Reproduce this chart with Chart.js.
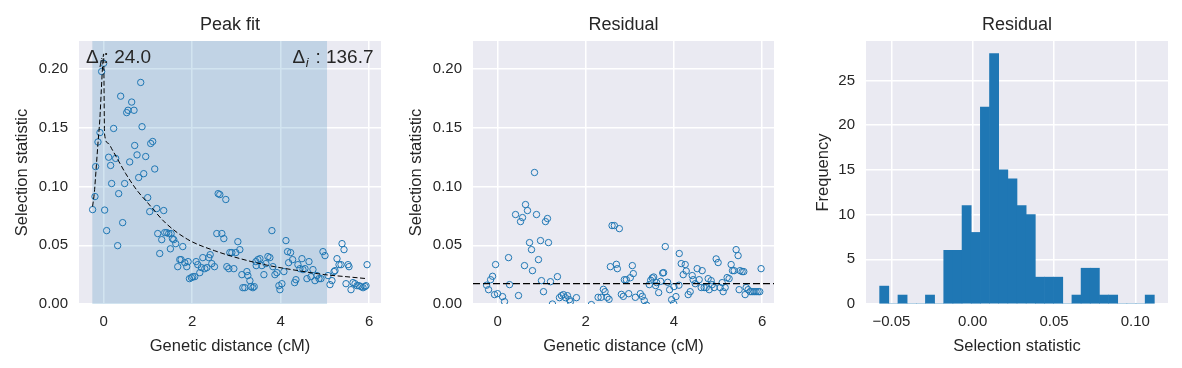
<!DOCTYPE html>
<html>
<head>
<meta charset="utf-8">
<script src="https://cdn.jsdelivr.net/npm/chart.js@4.4.0/dist/chart.umd.min.js"></script>
<style>
  html, body { margin: 0; padding: 0; background: #fff; }
  #wrap { position: relative; width: 1182px; height: 368px; }
  canvas { position: absolute; top: 0; }
</style>
</head>
<body>
<div id="wrap">
  <canvas id="peakChart" width="394" height="368" style="left:0px"></canvas>
  <canvas id="residChart" width="394" height="368" style="left:394px"></canvas>
  <canvas id="histChart" width="394" height="368" style="left:788px"></canvas>
</div>
<script>
// peak fit: observed points
var peakDist = [-0.249,-0.196,-0.181,-0.128,-0.083,-0.045,0.0,0.023,0.068,0.113,
  0.158,0.181,0.226,0.272,0.317,0.340,0.385,0.430,0.475,0.521,
  0.551,0.589,0.634,0.687,0.702,0.755,0.792,0.838,0.868,0.906,
  0.951,0.996,1.042,1.064,1.109,1.155,1.200,1.223,1.268,1.313,
  1.358,1.381,1.426,1.472,1.509,1.525,1.555,1.585,1.630,1.675,
  1.721,1.751,1.789,1.834,1.879,1.909,1.940,1.985,2.015,2.060,
  2.091,2.128,2.174,2.211,2.242,2.287,2.332,2.377,2.408,2.445,
  2.506,2.558,2.589,2.626,2.672,2.717,2.762,2.785,2.830,2.853,
  2.898,2.943,2.989,3.034,3.079,3.125,3.147,3.192,3.238,3.260,
  3.306,3.328,3.374,3.404,3.442,3.449,3.487,3.532,3.577,3.623,
  3.668,3.713,3.758,3.804,3.826,3.872,3.917,3.962,3.985,4.030,
  4.075,4.121,4.158,4.181,4.226,4.272,4.317,4.347,4.392,4.438,
  4.483,4.506,4.551,4.596,4.642,4.687,4.732,4.777,4.823,4.868,
  4.913,4.958,5.004,5.072,5.117,5.162,5.208,5.230,5.275,5.321,
  5.366,5.389,5.434,5.479,5.525,5.547,5.592,5.638,5.683,5.728,
  5.774,5.819,5.864,5.909,5.932,5.955];
var peakStat = [0.0804,0.0915,0.117,0.138,0.146,0.198,0.205,0.080,0.0625,0.125,
  0.118,0.1026,0.1495,0.124,0.0497,0.094,0.177,0.0693,0.1026,0.163,
  0.165,0.121,0.172,0.165,0.135,0.127,0.1077,0.1887,0.151,0.111,
  0.1256,0.0906,0.0787,0.1367,0.1384,0.115,0.0813,0.060,0.043,0.0548,
  0.0796,0.0608,0.0608,0.060,0.047,0.060,0.0557,0.0548,0.0514,0.0318,
  0.0378,0.0378,0.0489,0.0352,0.0318,0.0361,0.0216,0.0224,0.0233,0.0233,
  0.0361,0.0335,0.0267,0.031,0.0395,0.0301,0.031,0.0395,0.042,0.0344,
  0.0318,0.060,0.094,0.0932,0.060,0.0557,0.089,0.0318,0.0301,0.0438,
  0.0438,0.0301,0.0438,0.0531,0.0463,0.025,0.0139,0.0139,0.0276,0.0242,
  0.0199,0.0148,0.0139,0.0148,0.0361,0.0327,0.0378,0.0386,0.0327,0.025,
  0.0344,0.0404,0.0395,0.0625,0.0318,0.025,0.0267,0.0156,0.0122,0.0173,
  0.0276,0.054,0.0446,0.0352,0.0438,0.0378,0.0182,0.0207,0.0335,0.0301,
  0.0386,0.0293,0.0301,0.0216,0.0361,0.0233,0.0293,0.0199,0.0242,0.0216,
  0.0216,0.0446,0.0412,0.0242,0.0165,0.0199,0.0276,0.0284,0.0386,0.0335,
  0.0335,0.0514,0.0463,0.0173,0.0335,0.0318,0.0122,0.0182,0.0173,0.0156,
  0.0156,0.0148,0.0139,0.0148,0.0156,0.0335];

// fitted curve
var fitDist = [-0.25,-0.21,-0.17,-0.13,-0.085,-0.05,-0.02,0.0,0.02,0.1,0.2,0.35,0.5,0.75,1.0,1.4,1.9,2.5,3.1,3.7,4.35,5.0,5.5,5.95];
var fitStat = [0.083,0.095,0.115,0.136,0.158,0.184,0.205,0.213,0.145,0.137,0.131,0.121,0.111,0.097,0.086,0.069,0.055,0.0455,0.0385,0.033,0.0287,0.025,0.0232,0.0216];

// shaded window and annotations
var spanStart = -0.256, spanEnd = 5.05;
var deltaLeft = '24.0', deltaRight = '136.7';

// residuals (only those visible above 0)
var residDist = [-0.249,-0.204,-0.158,-0.113,-0.068,-0.045,0.0,0.113,0.158,0.249,
  0.272,0.408,0.475,0.521,0.566,0.611,0.634,0.679,0.725,0.770,
  0.792,0.838,0.883,0.928,0.974,0.996,1.042,1.087,1.132,1.155,
  1.200,1.245,1.358,1.404,1.449,1.494,1.540,1.585,1.630,1.653,
  1.789,2.128,2.280,2.348,2.400,2.438,2.484,2.529,2.559,2.597,
  2.649,2.695,2.717,2.762,2.808,2.853,2.876,2.921,2.975,3.011,
  3.057,3.079,3.125,3.238,3.283,3.328,3.380,3.441,3.473,3.509,
  3.541,3.586,3.609,3.654,3.699,3.745,3.767,3.804,3.858,3.903,
  3.948,3.994,4.000,4.046,4.114,4.121,4.166,4.211,4.256,4.279,
  4.324,4.369,4.415,4.437,4.483,4.528,4.573,4.619,4.641,4.686,
  4.732,4.777,4.800,4.845,4.868,4.913,4.958,5.003,5.049,5.094,
  5.117,5.162,5.207,5.252,5.298,5.329,5.366,5.411,5.456,5.479,
  5.502,5.547,5.585,5.615,5.638,5.683,5.728,5.773,5.818,5.863,
  5.909,5.947,5.977];
var residStat = [0.016,0.0122,0.0207,0.0236,0.008,0.0336,0.0088,0.0063,0.002,0.0395,
  0.0165,0.0762,0.0072,0.0702,0.0736,0.0327,0.0847,0.0796,0.0523,0.0463,
  0.0284,0.112,0.0762,0.0378,0.054,0.0199,0.0105,0.0702,0.0728,0.0523,
  0.019,0.0,0.0233,0.0054,0.0071,0.008,0.0054,0.0071,0.0037,0.002,
  0.0054,-0.0005,0.0057,0.0057,0.0125,0.0105,0.0057,0.004,0.0318,0.0668,
  0.0668,0.0338,0.0301,0.0642,0.0082,0.0065,0.0207,0.0207,0.0088,0.0224,
  0.0327,0.0259,0.0057,0.0088,0.0065,0.0029,-0.001,0.0165,0.0202,0.0222,
  0.023,0.0157,0.0182,0.0097,0.0193,0.0264,0.0267,0.0489,0.0185,0.0122,
  0.0037,0.0003,0.0148,0.0063,0.016,0.043,0.0344,0.025,0.0336,0.0281,
  0.008,0.0105,0.0242,0.0207,0.0173,0.0301,0.0207,0.014,0.0284,0.014,
  0.014,0.0216,0.0122,0.0199,0.0165,0.014,0.0384,0.0353,0.014,0.0182,
  0.0105,0.014,0.0225,0.0216,0.0336,0.0284,0.0284,0.0463,0.0412,0.0122,
  0.0284,0.0276,0.0276,0.008,0.014,0.0122,0.0105,0.0105,0.0105,0.0105,
  0.0105,0.0105,0.0301];
var residBase = 0.0174;

// histogram of residuals
var histCenters = [-0.05439,-0.04876,-0.04313,-0.03750,-0.03187,-0.02624,-0.02061,-0.01498,-0.00935,-0.00372,
  0.00191,0.00754,0.01317,0.01880,0.02443,0.03006,0.03569,0.04132,0.04695,0.05258,
  0.05821,0.06384,0.06947,0.07510,0.08073,0.08636,0.09199,0.09762,0.10325,0.10888];
var histCounts = [2,0,1,0,0,1,0,6,6,11,8,22,28,15,14,11,10,3,3,3,0,1,4,4,1,1,0,0,0,1];

// axes
var distLim = [-0.557, 6.27];
var statLim = [0, 0.224];
var distTicks = [0, 2, 4, 6];
var statTicks = [0, 0.05, 0.1, 0.15, 0.2];
var residLim = [-0.0656, 0.1201];
var residTicks = [-0.05, 0, 0.05, 0.1];
var freqLim = [0, 29.4];
var freqTicks = [0, 5, 10, 15, 20, 25];

var ink = '#262626';
var blue = '#1f77b4';
var family = "'Liberation Sans', Arial, sans-serif";
Chart.defaults.font.family = family;
Chart.defaults.color = ink;

function pairs(xs, ys) {
  return xs.map(function (x, i) { return { x: x, y: ys[i] }; });
}

var darkgrid = {
  id: 'darkgrid',
  beforeDraw: function (chart) {
    var a = chart.chartArea, c = chart.ctx;
    c.save();
    c.fillStyle = '#eaeaf2';
    c.fillRect(a.left, a.top, a.right - a.left, a.bottom - a.top);
    c.restore();
  }
};

var spanShade = {
  id: 'spanShade',
  beforeDatasetsDraw: function (chart) {
    var a = chart.chartArea, c = chart.ctx, sx = chart.scales.x;
    var x0 = sx.getPixelForValue(spanStart), x1 = sx.getPixelForValue(spanEnd);
    c.save();
    c.fillStyle = 'rgba(31,119,180,0.2)';
    c.fillRect(x0, a.top, x1 - x0, a.bottom - a.top);
    c.restore();
  }
};

function deltaText(c, x, y, rest, right) {
  var big = "19px " + family, small = "italic 13px " + family;
  c.font = big; var wD = c.measureText('\u0394').width;
  c.font = small; var wi = c.measureText('i').width;
  c.font = big; var wr = c.measureText(rest).width;
  var gap = 2;
  var x0 = right ? x - (wD + wi + gap + wr) : x;
  c.fillStyle = ink;
  c.textBaseline = 'alphabetic';
  c.textAlign = 'left';
  c.font = big; c.fillText('\u0394', x0, y);
  c.font = small; c.fillText('i', x0 + wD + 0.5, y + 4);
  c.font = big; c.fillText(rest, x0 + wD + wi + gap, y);
}

var deltaLabels = {
  id: 'deltaLabels',
  afterDatasetsDraw: function (chart) {
    var a = chart.chartArea, c = chart.ctx;
    c.save();
    deltaText(c, a.left + 7, a.top + 22, ': ' + deltaLeft, false);
    deltaText(c, a.right - 7.5, a.top + 22, ' : ' + deltaRight, true);
    c.restore();
  }
};

function xAxis(lim, ticks, label, fmt) {
  return {
    type: 'linear', min: lim[0], max: lim[1], offset: false,
    afterBuildTicks: function (s) { s.ticks = ticks.map(function (v) { return { value: v }; }); },
    afterFit: function (s) { s.height = 64; },
    grid: { color: '#ffffff', lineWidth: 1.5, drawTicks: false, offset: false },
    border: { display: false },
    ticks: { padding: 9, autoSkip: false, maxRotation: 0, font: { size: 15 }, color: ink, callback: fmt },
    title: { display: true, text: label, font: { size: 16.5 }, color: ink, padding: { top: 0, bottom: 11.5 } }
  };
}

function yAxis(lim, ticks, label, width, pad, fmt) {
  return {
    type: 'linear', min: lim[0], max: lim[1],
    afterBuildTicks: function (s) { s.ticks = ticks.map(function (v) { return { value: v }; }); },
    afterFit: function (s) { s.width = width; },
    grid: { color: '#ffffff', lineWidth: 1.5, drawTicks: false },
    border: { display: false },
    ticks: { padding: 11, autoSkip: false, font: { size: 15 }, color: ink, callback: fmt },
    title: { display: true, text: label, font: { size: 16.5 }, color: ink, padding: { top: pad, bottom: 0 } }
  };
}

function titleOpts(text) {
  return {
    display: true, text: text, fullSize: false, color: ink,
    font: { size: 18, weight: 'normal' },
    padding: { top: 14, bottom: 5.4 }
  };
}

var fmtStat = function (v) { return v.toFixed(2); };
var fmtDist = function (v) { return String(v); };
var fmtResid = function (v) { return (v < 0 ? '\u2212' : '') + Math.abs(v).toFixed(2); };
var fmtFreq = function (v) { return String(v); };

var common = {
  responsive: false,
  animation: false,
  devicePixelRatio: 1,
  events: []
};

new Chart(document.getElementById('peakChart'), {
  type: 'scatter',
  data: {
    datasets: [{
      data: pairs(fitDist, fitStat),
      showLine: true, borderColor: '#000', borderWidth: 1, borderDash: [5, 2.5],
      cubicInterpolationMode: 'monotone', pointRadius: 0, fill: false
    }, {
      data: pairs(peakDist, peakStat),
      pointRadius: 3.2, pointBorderWidth: 1, pointBorderColor: blue,
      pointBackgroundColor: 'rgba(0,0,0,0)', clip: 0
    }]
  },
  options: Object.assign({}, common, {
    layout: { padding: { left: 0, right: 13, top: 0, bottom: 0 } },
    plugins: { legend: { display: false }, tooltip: { enabled: false }, title: titleOpts('Peak fit') },
    scales: {
      x: xAxis(distLim, distTicks, 'Genetic distance (cM)', fmtDist),
      y: yAxis(statLim, statTicks, 'Selection statistic', 79, 13, fmtStat)
    }
  }),
  plugins: [darkgrid, spanShade, deltaLabels]
});

new Chart(document.getElementById('residChart'), {
  type: 'scatter',
  data: {
    datasets: [{
      data: [{ x: distLim[0], y: residBase }, { x: distLim[1], y: residBase }],
      showLine: true, borderColor: '#000', borderWidth: 1.3, borderDash: [7, 3],
      pointRadius: 0, fill: false
    }, {
      data: pairs(residDist, residStat),
      pointRadius: 3.2, pointBorderWidth: 1, pointBorderColor: blue,
      pointBackgroundColor: 'rgba(0,0,0,0)', clip: 0
    }]
  },
  options: Object.assign({}, common, {
    layout: { padding: { left: 0, right: 14, top: 0, bottom: 0 } },
    plugins: { legend: { display: false }, tooltip: { enabled: false }, title: titleOpts('Residual') },
    scales: {
      x: xAxis(distLim, distTicks, 'Genetic distance (cM)', fmtDist),
      y: yAxis(statLim, statTicks, 'Selection statistic', 79, 13, fmtStat)
    }
  }),
  plugins: [darkgrid]
});

new Chart(document.getElementById('histChart'), {
  type: 'bar',
  data: {
    datasets: [{
      data: pairs(histCenters, histCounts),
      backgroundColor: blue, borderWidth: 0,
      barPercentage: 1, categoryPercentage: 1
    }]
  },
  options: Object.assign({}, common, {
    layout: { padding: { left: 0, right: 14, top: 0, bottom: 0 } },
    plugins: { legend: { display: false }, tooltip: { enabled: false }, title: titleOpts('Residual') },
    scales: {
      x: xAxis(residLim, residTicks, 'Selection statistic', fmtResid),
      y: yAxis(freqLim, freqTicks, 'Frequency', 78, 26, fmtFreq)
    }
  }),
  plugins: [darkgrid]
});
</script>
</body>
</html>
